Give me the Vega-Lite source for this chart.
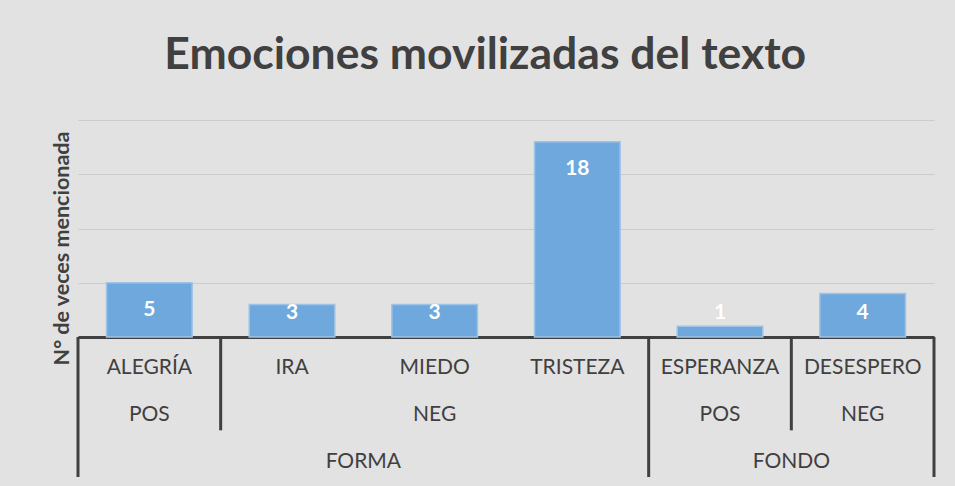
{
  "$schema": "https://vega.github.io/schema/vega-lite/v6.json",
  "padding": {"left": 50, "top": 32, "right": 22, "bottom": 8},
  "background": "#e2e2e2",
  "bounds": "flush",
  "title": {
    "text": "Emociones movilizadas del texto",
    "font": "Lato",
    "fontSize": 44.5,
    "fontWeight": "bold",
    "color": "#404040",
    "anchor": "middle",
    "offset": 42,
    "dx": -8
  },
  "config": {"view": {"stroke": null}, "font": "Lato"},
  "spacing": 0,
  "vconcat": [
    {
      "width": 856,
      "height": 217,
      "data": {
        "values": [
          {"emocion": "ALEGRÍA", "n": 5},
          {"emocion": "IRA", "n": 3},
          {"emocion": "MIEDO", "n": 3},
          {"emocion": "TRISTEZA", "n": 18},
          {"emocion": "ESPERANZA", "n": 1},
          {"emocion": "DESESPERO", "n": 4}
        ]
      },
      "layer": [
        {
          "mark": {"type": "bar", "fill": "#6fa8dc", "stroke": "#9dc3e6", "strokeWidth": 1.5},
          "encoding": {
            "x": {
              "field": "emocion",
              "type": "nominal",
              "sort": null,
              "scale": {"paddingInner": 0.4, "paddingOuter": 0.2},
              "axis": {"labels": false, "ticks": false, "title": null, "domainColor": "#404040", "domainWidth": 3}
            },
            "y": {
              "field": "n",
              "type": "quantitative",
              "scale": {"domain": [0, 20]},
              "axis": {
                "labels": false,
                "ticks": false,
                "domain": false,
                "values": [0, 5, 10, 15, 20],
                "gridColor": "#cccccc",
                "gridWidth": 1,
                "title": "N° de veces mencionada",
                "titleFontSize": 21.5,
                "titleFontWeight": "bold",
                "titleColor": "#404040",
                "titleAngle": -90,
                "titleX": -16,
                "titleY": 128,
                "titleAlign": "center",
                "titleBaseline": "middle"
              }
            }
          }
        },
        {
          "transform": [{"calculate": "max(datum.n, 4.77)", "as": "pos"}],
          "mark": {"type": "text", "color": "white", "fontWeight": "bold", "fontSize": 21, "dy": 27.5, "baseline": "middle"},
          "encoding": {
            "x": {"field": "emocion", "type": "nominal", "sort": null},
            "y": {"field": "pos", "type": "quantitative"},
            "text": {"field": "n", "type": "quantitative"}
          }
        }
      ]
    },
    {
      "width": 856,
      "height": 140,
      "layer": [
        {
          "data": {
            "values": [
              {"label": "ALEGRÍA", "level": 1, "start": 0, "end": 1},
              {"label": "IRA", "level": 1, "start": 1, "end": 2},
              {"label": "MIEDO", "level": 1, "start": 2, "end": 3},
              {"label": "TRISTEZA", "level": 1, "start": 3, "end": 4},
              {"label": "ESPERANZA", "level": 1, "start": 4, "end": 5},
              {"label": "DESESPERO", "level": 1, "start": 5, "end": 6},
              {"label": "POS", "level": 2, "start": 0, "end": 1},
              {"label": "NEG", "level": 2, "start": 1, "end": 4},
              {"label": "POS", "level": 2, "start": 4, "end": 5},
              {"label": "NEG", "level": 2, "start": 5, "end": 6},
              {"label": "FORMA", "level": 3, "start": 0, "end": 4},
              {"label": "FONDO", "level": 3, "start": 4, "end": 6}
            ]
          },
          "transform": [
            {"calculate": "(datum.start + datum.end) / 2", "as": "mid"},
            {"calculate": "datum.level - 0.5", "as": "row"}
          ],
          "mark": {"type": "text", "fontSize": 21, "color": "#404040", "dy": 8, "baseline": "middle"},
          "encoding": {
            "x": {"field": "mid", "type": "quantitative", "scale": {"domain": [0, 6]}, "axis": null},
            "y": {"field": "row", "type": "quantitative", "scale": {"domain": [0, 3], "reverse": true}, "axis": null},
            "text": {"field": "label", "type": "nominal"}
          }
        },
        {
          "data": {
            "values": [
              {"boundary": 0, "top": 0, "depth": 3},
              {"boundary": 1, "top": 0, "depth": 2},
              {"boundary": 4, "top": 0, "depth": 3},
              {"boundary": 5, "top": 0, "depth": 2},
              {"boundary": 6, "top": 0, "depth": 3}
            ]
          },
          "mark": {"type": "rule", "color": "#404040", "strokeWidth": 3},
          "encoding": {
            "x": {"field": "boundary", "type": "quantitative", "scale": {"domain": [0, 6]}, "axis": null},
            "y": {"field": "top", "type": "quantitative"},
            "y2": {"field": "depth"}
          }
        }
      ]
    }
  ]
}
